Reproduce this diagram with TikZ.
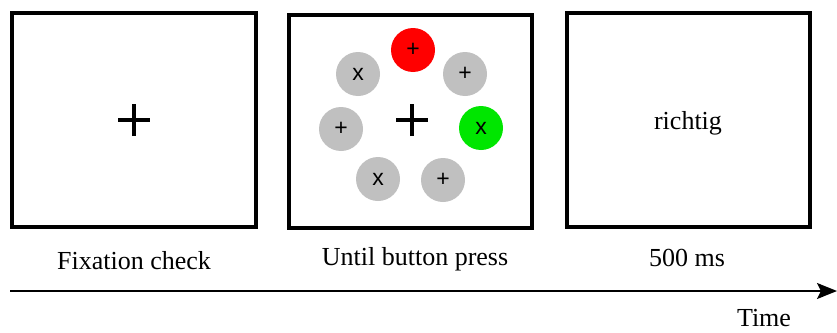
\documentclass[tikz,border=0pt]{standalone}
\usepackage{fontspec}
\setmainfont{Liberation Serif}
\newfontfamily\stimfont{Liberation Sans}
\usetikzlibrary{arrows.meta}
\definecolor{stimgray}{RGB}{192,192,192}
\definecolor{stimred}{RGB}{255,0,0}
\definecolor{stimgreen}{RGB}{0,230,0}
\begin{document}
\begin{tikzpicture}[x=1pt,y=-1pt,
  screen/.style={draw=black,line width=3.5pt,fill=white},
  stim/.style={circle,minimum size=44pt,inner sep=0pt,font=\stimfont\fontsize{23}{23}\selectfont},
  lbl/.style={font=\fontsize{26}{26}\selectfont,inner sep=0pt},
  fix/.style={line width=3.2pt}]
\useasboundingbox (0,0) rectangle (837,332);
% screens
\draw[screen] (12,13) rectangle (256,227);
\draw[screen] (289,15) rectangle (532,228);
\draw[screen] (567,13) rectangle (810,227);
\coordinate (s1) at (134,120);
\coordinate (s2) at (412,120);
% fixation crosses
\draw[fix] ([xshift=-16pt]s1) -- ([xshift=16pt]s1) ([yshift=-16pt]s1) -- ([yshift=16pt]s1);
\draw[fix] ([xshift=-16pt]s2) -- ([xshift=16pt]s2) ([yshift=-16pt]s2) -- ([yshift=16pt]s2);
% stimuli
\node[stim,fill=stimred] (c1) at (413,50) {+};
\node[stim,fill=stimgray] (c2) at (358,74) {x};
\node[stim,fill=stimgray] (c3) at (465,74) {+};
\node[stim,fill=stimgray] (c4) at (341,129) {+};
\node[stim,fill=stimgreen] (c5) at (481,128) {x};
\node[stim,fill=stimgray] (c6) at (378,179) {x};
\node[stim,fill=stimgray] (c7) at (443,180) {+};
% feedback
\node[lbl] (fb) at (688,123) {richtig};
% labels
\node[lbl] (l1) at (134,261) {Fixation check};
\node[lbl] (l2) at (415,259) {Until button press};
\node[lbl] (l3) at (687,258) {500 ms};
% time axis
\coordinate (a0) at (10,291);
\coordinate (a1) at (837,291);
\draw[line width=1.6pt,-{Stealth[length=20pt,width=16pt,inset=4pt]}] (a0) -- (a1);
\node[lbl] (t) at (764,318) {Time};
\end{tikzpicture}
\end{document}
